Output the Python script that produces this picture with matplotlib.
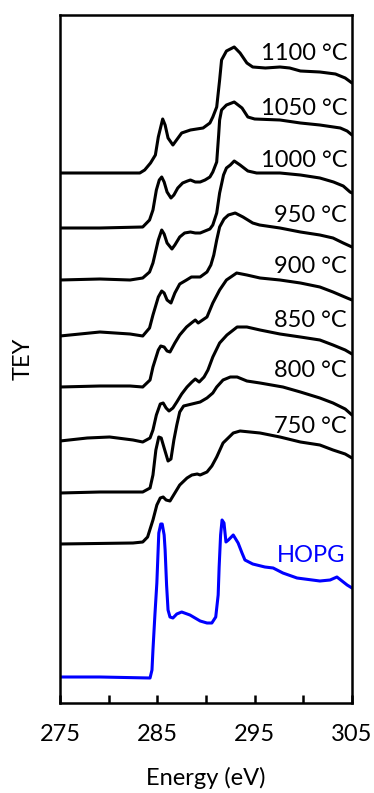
import matplotlib
matplotlib.use("Agg")
import matplotlib.pyplot as plt
from matplotlib.ticker import FixedLocator, NullFormatter

plt.rcParams['font.family'] = ['Lato', 'DejaVu Sans']

# stacked C K-edge NEXAFS spectra (TEY, arbitrary units incl. vertical offset)
e_1100 = [275.0, 279.1, 283.2, 283.7, 284.3, 284.8, 285.1, 285.55, 285.8, 286.1, 286.6, 286.9,
          287.5, 288.4, 289.7, 290.4, 290.7, 291.1, 291.4, 291.6, 292.1, 292.9, 293.5, 294.2,
          294.8, 296.1, 297.6, 298.6, 299.7, 301.7, 303.3, 304.3, 305.0]
tey_1100 = [5.30, 5.30, 5.30, 5.33, 5.40, 5.48, 5.66, 5.84, 5.78, 5.65, 5.58, 5.62,
            5.70, 5.73, 5.75, 5.80, 5.86, 5.96, 6.23, 6.43, 6.52, 6.56, 6.50, 6.40,
            6.36, 6.35, 6.36, 6.35, 6.32, 6.31, 6.29, 6.25, 6.20]

e_1050 = [275.0, 279.1, 283.5, 284.2, 284.55, 284.9, 285.2, 285.45, 285.7, 286.0, 286.4, 286.7,
          287.1, 287.6, 288.1, 288.4, 288.9, 289.4, 289.9, 290.4, 290.7, 291.1, 291.3, 291.4,
          291.6, 292.1, 292.9, 293.7, 294.3, 295.0, 297.6, 299.7, 301.7, 303.8, 304.5, 305.0]
tey_1050 = [4.75, 4.75, 4.76, 4.83, 4.93, 5.13, 5.23, 5.26, 5.21, 5.11, 5.05, 5.08,
            5.15, 5.20, 5.22, 5.23, 5.21, 5.21, 5.23, 5.26, 5.31, 5.41, 5.68, 5.83,
            5.93, 5.98, 6.01, 5.95, 5.86, 5.84, 5.83, 5.80, 5.78, 5.75, 5.72, 5.68]

e_1000 = [275.0, 279.1, 282.2, 283.5, 284.2, 284.55, 285.1, 285.45, 285.7, 286.0, 286.5, 286.8,
          287.3, 287.8, 288.4, 288.9, 289.4, 289.9, 290.4, 290.7, 291.1, 291.4, 291.8, 292.1,
          292.5, 292.9, 293.5, 294.3, 295.2, 297.6, 299.7, 301.7, 303.1, 304.1, 304.8, 305.0]
tey_1000 = [4.23, 4.24, 4.23, 4.25, 4.31, 4.40, 4.63, 4.73, 4.69, 4.60, 4.54, 4.58,
            4.66, 4.70, 4.71, 4.70, 4.70, 4.72, 4.74, 4.78, 4.90, 5.10, 5.28, 5.35,
            5.38, 5.42, 5.38, 5.32, 5.30, 5.30, 5.28, 5.25, 5.21, 5.17, 5.11, 5.10]

e_950 = [275.0, 279.1, 282.2, 283.5, 284.2, 284.55, 285.1, 285.45, 285.7, 286.0, 286.4, 286.8,
         287.3, 288.0, 288.5, 289.4, 290.1, 290.5, 290.8, 291.1, 291.4, 291.85, 292.3, 293.0,
         293.8, 294.8, 295.5, 297.6, 299.7, 301.7, 303.05, 304.1, 305.0]
tey_950 = [3.67, 3.71, 3.69, 3.67, 3.75, 3.88, 4.06, 4.12, 4.10, 4.03, 4.00, 4.10,
           4.19, 4.23, 4.26, 4.26, 4.31, 4.38, 4.48, 4.63, 4.76, 4.84, 4.88, 4.90,
           4.86, 4.80, 4.78, 4.75, 4.71, 4.68, 4.65, 4.60, 4.56]

e_900 = [275.0, 279.1, 282.2, 283.5, 284.25, 284.55, 285.1, 285.35, 285.7, 286.0, 286.3, 286.8,
         287.3, 288.0, 288.5, 288.9, 289.2, 290.1, 290.7, 291.4, 292.1, 293.15, 294.2, 295.55,
         297.6, 299.7, 301.7, 303.05, 304.5, 305.0]
tey_900 = [3.16, 3.17, 3.17, 3.16, 3.23, 3.36, 3.53, 3.57, 3.56, 3.52, 3.51, 3.60,
           3.68, 3.76, 3.80, 3.83, 3.80, 3.86, 4.00, 4.13, 4.23, 4.30, 4.28, 4.25,
           4.23, 4.20, 4.16, 4.11, 4.05, 4.03]

e_850 = [275.0, 277.8, 280.1, 282.5, 283.5, 284.25, 284.55, 284.9, 285.3, 285.6, 285.9, 286.2,
         286.6, 287.0, 287.5, 288.05, 288.55, 288.9, 289.3, 289.8, 290.2, 290.7, 291.4, 292.15,
         293.2, 294.2, 295.55, 297.6, 299.7, 301.7, 303.05, 304.3, 305.0]
tey_850 = [2.62, 2.65, 2.66, 2.63, 2.61, 2.65, 2.73, 2.88, 2.99, 3.00, 2.95, 2.92,
           2.95, 3.01, 3.09, 3.16, 3.21, 3.24, 3.21, 3.26, 3.33, 3.46, 3.60, 3.68,
           3.76, 3.76, 3.73, 3.69, 3.66, 3.63, 3.58, 3.53, 3.49]

e_800 = [275.0, 279.1, 283.5, 284.25, 284.55, 284.85, 285.15, 285.4, 285.7, 286.1, 286.4, 286.7,
         287.0, 287.3, 287.7, 288.55, 289.4, 290.1, 290.7, 291.1, 291.75, 292.5, 293.2, 294.2,
         295.55, 297.9, 299.7, 301.7, 303.05, 304.3, 305.0]
tey_800 = [2.10, 2.11, 2.11, 2.15, 2.28, 2.53, 2.66, 2.65, 2.55, 2.42, 2.44, 2.63,
           2.78, 2.91, 2.97, 2.99, 3.01, 3.05, 3.10, 3.16, 3.23, 3.26, 3.26, 3.22,
           3.20, 3.16, 3.11, 3.05, 3.00, 2.94, 2.88]

e_750 = [275.0, 282.5, 283.5, 284.0, 284.55, 284.95, 285.3, 285.6, 285.9, 286.3, 286.8, 287.3,
         288.05, 288.55, 289.1, 289.4, 290.1, 290.6, 291.1, 291.75, 292.8, 293.5, 295.55, 297.6,
         299.7, 301.7, 303.05, 304.3, 305.0]
tey_750 = [1.59, 1.60, 1.61, 1.66, 1.83, 1.98, 2.05, 2.06, 2.03, 2.02, 2.10, 2.18,
           2.25, 2.28, 2.29, 2.28, 2.31, 2.37, 2.46, 2.60, 2.70, 2.72, 2.70, 2.66,
           2.61, 2.58, 2.53, 2.49, 2.45]

e_hopg = [275.0, 279.1, 284.25, 284.45, 284.55, 284.75, 284.95, 285.15, 285.35, 285.5, 285.7, 285.8,
          285.95, 286.1, 286.3, 286.6, 287.0, 287.5, 288.35, 289.4, 290.1, 290.6, 291.0, 291.25,
          291.35, 291.5, 291.65, 291.85, 292.05, 292.3, 292.8, 293.3, 293.7, 294.0, 294.8, 296.05,
          296.9, 297.9, 299.35, 301.7, 302.75, 303.45, 304.5, 305.0]
tey_hopg = [0.26, 0.26, 0.25, 0.33, 0.53, 0.88, 1.20, 1.70, 1.79, 1.79, 1.68, 1.53,
            1.18, 0.93, 0.86, 0.85, 0.89, 0.91, 0.88, 0.82, 0.80, 0.80, 0.86, 1.08,
            1.36, 1.68, 1.83, 1.80, 1.61, 1.63, 1.68, 1.60, 1.50, 1.43, 1.39, 1.36,
            1.35, 1.30, 1.25, 1.22, 1.23, 1.26, 1.18, 1.15]

labels = ["1100 °C", "1050 °C", "1000 °C", "950 °C", "900 °C", "850 °C", "800 °C", "750 °C"]
label_y = [6.43, 5.88, 5.36, 4.81, 4.30, 3.76, 3.26, 2.70]

spectra = [(e_1100, tey_1100), (e_1050, tey_1050), (e_1000, tey_1000), (e_950, tey_950),
           (e_900, tey_900), (e_850, tey_850), (e_800, tey_800), (e_750, tey_750)]

fig = plt.figure(figsize=(3.74, 7.93), dpi=100)
ax = fig.add_axes([60 / 374, 90 / 793, 292 / 374, 688 / 793])

for (e, t), lab, ly in zip(spectra, labels, label_y):
    ax.plot(e, t, color="black", lw=2.2, solid_joinstyle="round", solid_capstyle="round")
    ax.text(304.5, ly, lab, ha="right", va="baseline", fontsize=17)

ax.plot(e_hopg, tey_hopg, color="#0000ff", lw=2.2, solid_joinstyle="round")
ax.text(304.3, 1.41, "HOPG", ha="right", va="baseline", fontsize=17, color="#0000ff")

ax.set_xlim(275, 305)
ax.set_ylim(0, 6.88)
ax.xaxis.set_major_locator(FixedLocator([275, 285, 295, 305]))
ax.xaxis.set_minor_locator(FixedLocator([280, 290, 300]))
ax.xaxis.set_minor_formatter(NullFormatter())
ax.tick_params(axis="x", which="both", direction="in", length=6, width=1.8,
               labelsize=17, pad=15)
ax.set_yticks([])
for s in ax.spines.values():
    s.set_linewidth(1.8)

ax.set_xlabel("Energy (eV)", fontsize=17, labelpad=16)
ax.set_ylabel("TEY", fontsize=17, labelpad=19)

fig.savefig("out.png", dpi=100)
